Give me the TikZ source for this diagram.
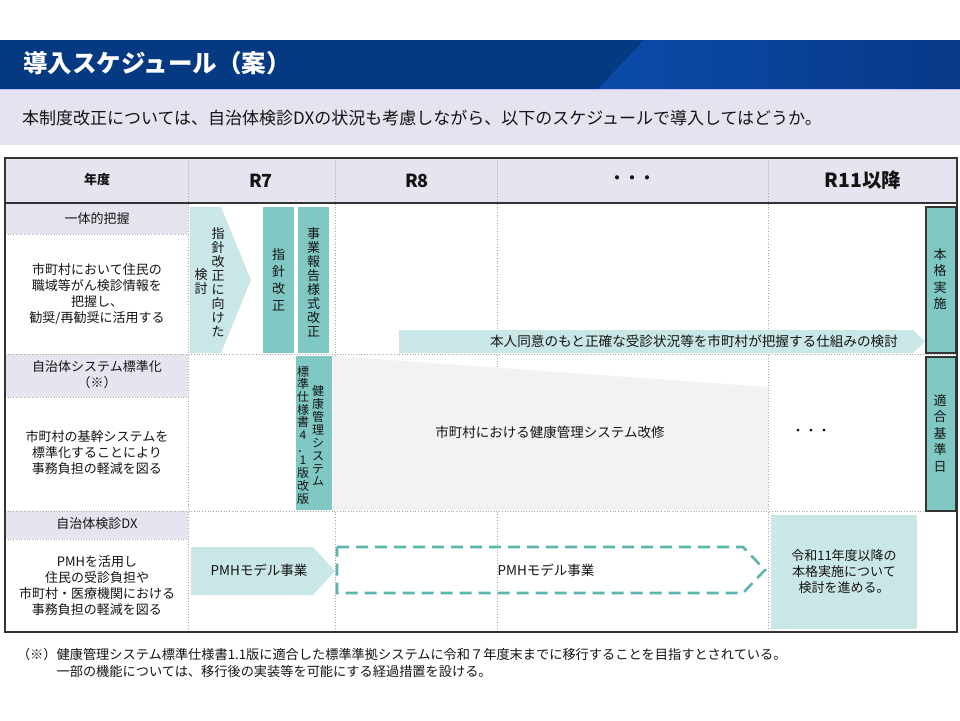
\documentclass[tikz,border=0pt]{standalone}
\usepackage{fontspec}
\setmainfont{Noto Sans CJK JP}
\definecolor{navyA}{HTML}{053A82}
\definecolor{blueB}{HTML}{0A4CAA}
\definecolor{navyC}{HTML}{083887}
\definecolor{lavS}{HTML}{E4E3EF}
\definecolor{lavT}{HTML}{E6E4EF}
\definecolor{tealL}{HTML}{C9E7E6}
\definecolor{tealD}{HTML}{80C8C3}
\definecolor{tealDash}{HTML}{5DB6AE}
\definecolor{grayF}{HTML}{F2F2F2}
\definecolor{gridc}{HTML}{A8A8A8}
\definecolor{darkc}{HTML}{333333}
\definecolor{txtc}{HTML}{141414}
\tikzset{
  every node/.style={inner sep=0pt, outer sep=0pt, text=txtc},
  gridl/.style={draw=gridc, line width=0.7pt, dotted},
  darkl/.style={draw=darkc, line width=1.6pt},
  lightbox/.style={fill=tealL, draw=none},
  darkbox/.style={fill=tealD, draw=none},
  framebox/.style={fill=tealD, draw=darkc, line width=1.3pt},
  body/.style={font=\fontsize{13}{16}\selectfont, align=center},
  hdr/.style={font=\fontsize{18}{20}\selectfont\bfseries},
  vt/.style={align=center, font=\fontsize{13}{#1}\selectfont},
  vts/.style={align=center, font=\fontsize{12}{#1}\selectfont},
}
\begin{document}
\begin{tikzpicture}[x=1pt,y=-1pt]
\useasboundingbox (0,0) rectangle (960,720);
\fill[white] (0,0) rectangle (960,720);

% ---- title band
\fill[navyA] (0,40) rectangle (960,89);
\shade[left color=blueB, right color=navyC] (644,40) -- (960,40) -- (960,89) -- (598,89) -- cycle;
\draw[draw=white!75!blue, line width=0.8pt] (0,89) -- (960,89);
\node[anchor=west, font=\fontsize{24.5}{28}\selectfont\bfseries, text=white] (title) at (23,63) {導入スケジュール（案）};

% ---- subtitle band
\fill[lavS] (0,89.5) rectangle (960,145);
\node[anchor=west, font=\fontsize{17}{20}\selectfont] (sub) at (22,118) {本制度改正については、自治体検診DXの状況も考慮しながら、以下のスケジュールで導入してはどうか。};

% ---- table fills
\fill[lavT] (5,158) rectangle (957,203);
\fill[lavT] (5,203) rectangle (188,234);
\fill[lavT] (5,354) rectangle (188,397);
\fill[lavT] (5,511) rectangle (188,539);

% ---- grid
\draw[gridl] (188,158) -- (188,632);
\draw[gridl] (335,158) -- (335,632);
\draw[gridl] (497,158) -- (497,632);
\draw[gridl] (768,158) -- (768,632);
\draw[gridl] (5,234) -- (188,234);
\draw[gridl] (5,397) -- (188,397);
\draw[gridl] (5,539) -- (188,539);
\draw[gridl] (5,354) -- (957,354);
\draw[gridl] (5,511) -- (957,511);

% ---- header texts
\node[font=\fontsize{13}{15}\selectfont\bfseries] (nendo) at (97,180) {年度};
\node[hdr] (r7) at (261,181) {R7};
\node[hdr] (r8) at (417,181) {R8};
\node[font=\fontsize{15}{17}\selectfont\bfseries] (dots) at (632,180) {・・・};
\node[font=\fontsize{19.5}{22}\selectfont\bfseries] (r11) at (863,180) {R11以降};

% ---- left column texts
\node[body] (lab1) at (97,219) {一体的把握};
\node[body] (desc1) at (97,294) {市町村において住民の\\職域等がん検診情報を\\把握し、\\勧奨/再勧奨に活用する};
\node[body] (lab2) at (97,375) {自治体システム標準化\\（※）};
\node[body] (desc2) at (97,453) {市町村の基幹システムを\\標準化することにより\\事務負担の軽減を図る};
\node[body] (lab3) at (97,524) {自治体検診DX};
\node[body] (desc3) at (97,586) {PMHを活用し\\住民の受診負担や\\市町村・医療機関における\\事務負担の軽減を図る};

% ---- row 1 (R7)
\fill[lightbox] (190,207) -- (221,207) -- (251,280) -- (221,353) -- (190,353) -- cycle;
\node[vt=14] (chevA) at (218,282) {指\\針\\改\\正\\に\\向\\け\\た};
\node[vt=14] (chevB) at (201,282) {検\\討};
\fill[darkbox] (263,207) rectangle (294,353);
\node[vt=17] (shishin) at (278.5,280) {指\\針\\改\\正};
\fill[darkbox] (298,207) rectangle (329,353);
\node[vt=14] (jigyo) at (313.5,282) {事\\業\\報\\告\\様\\式\\改\\正};

% ---- row 1 long arrow
\fill[lightbox] (399,330) -- (913,330) -- (925,341.5) -- (913,353) -- (399,353) -- cycle;
\node[font=\fontsize{13.6}{16}\selectfont] (kento) at (694,341.5) {本人同意のもと正確な受診状況等を市町村が把握する仕組みの検討};

% ---- right boxes
\draw[framebox] (926,207) rectangle (956,353);
\node[vt=16.5] (honkaku) at (940,279) {本\\格\\実\\施};
\draw[framebox] (926,357) rectangle (956,511);
\node[vt=16.5] (tekigo) at (940,433) {適\\合\\基\\準\\日};

% ---- row 2
\fill[grayF] (333,356) -- (768,387) -- (768,510) -- (333,510) -- cycle;
\fill[darkbox] (296,356) rectangle (332,510);
\node[vts=12.9] (kenkoA) at (318,436) {健\\康\\管\\理\\シ\\ス\\テ\\ム};
\node[vts=12.7] (kenkoB) at (303,435) {標\\準\\仕\\様\\書\\4\\．\\1\\版\\改\\版};
\node[font=\fontsize{13.5}{16}\selectfont] (kaishu) at (550,432) {市町村における健康管理システム改修};
\node[font=\fontsize{13}{16}\selectfont] (dots2) at (811,432) {・・・};

% ---- row 3
\fill[lightbox] (191,547) -- (313,547) -- (335,571) -- (313,595) -- (191,595) -- cycle;
\node[font=\fontsize{13.5}{16}\selectfont] (pmh1) at (259,570) {PMHモデル事業};
\draw[draw=tealDash, line width=2.6pt, dash pattern=on 12pt off 7pt] (337,547) -- (743,547) -- (765,570) -- (743,593) -- (337,593) -- cycle;
\node[font=\fontsize{13.5}{16}\selectfont] (pmh2) at (546,570) {PMHモデル事業};
\fill[lightbox] (771,515) rectangle (917,629);
\node[body] (reiwa) at (844,572) {令和11年度以降の\\本格実施について\\検討を進める。};

% ---- table borders
\draw[darkl] (5,203) -- (957,203);
\draw[darkl] (5,158) rectangle (957,632);

% ---- footnote
\node[anchor=north west, align=left, font=\fontsize{13.2}{17.5}\selectfont] (note) at (17,648) {（※）健康管理システム標準仕様書1.1版に適合した標準準拠システムに令和７年度末までに移行することを目指すとされている。\\\hspace*{3em}一部の機能については、移行後の実装等を可能にする経過措置を設ける。};
\end{tikzpicture}
\end{document}
